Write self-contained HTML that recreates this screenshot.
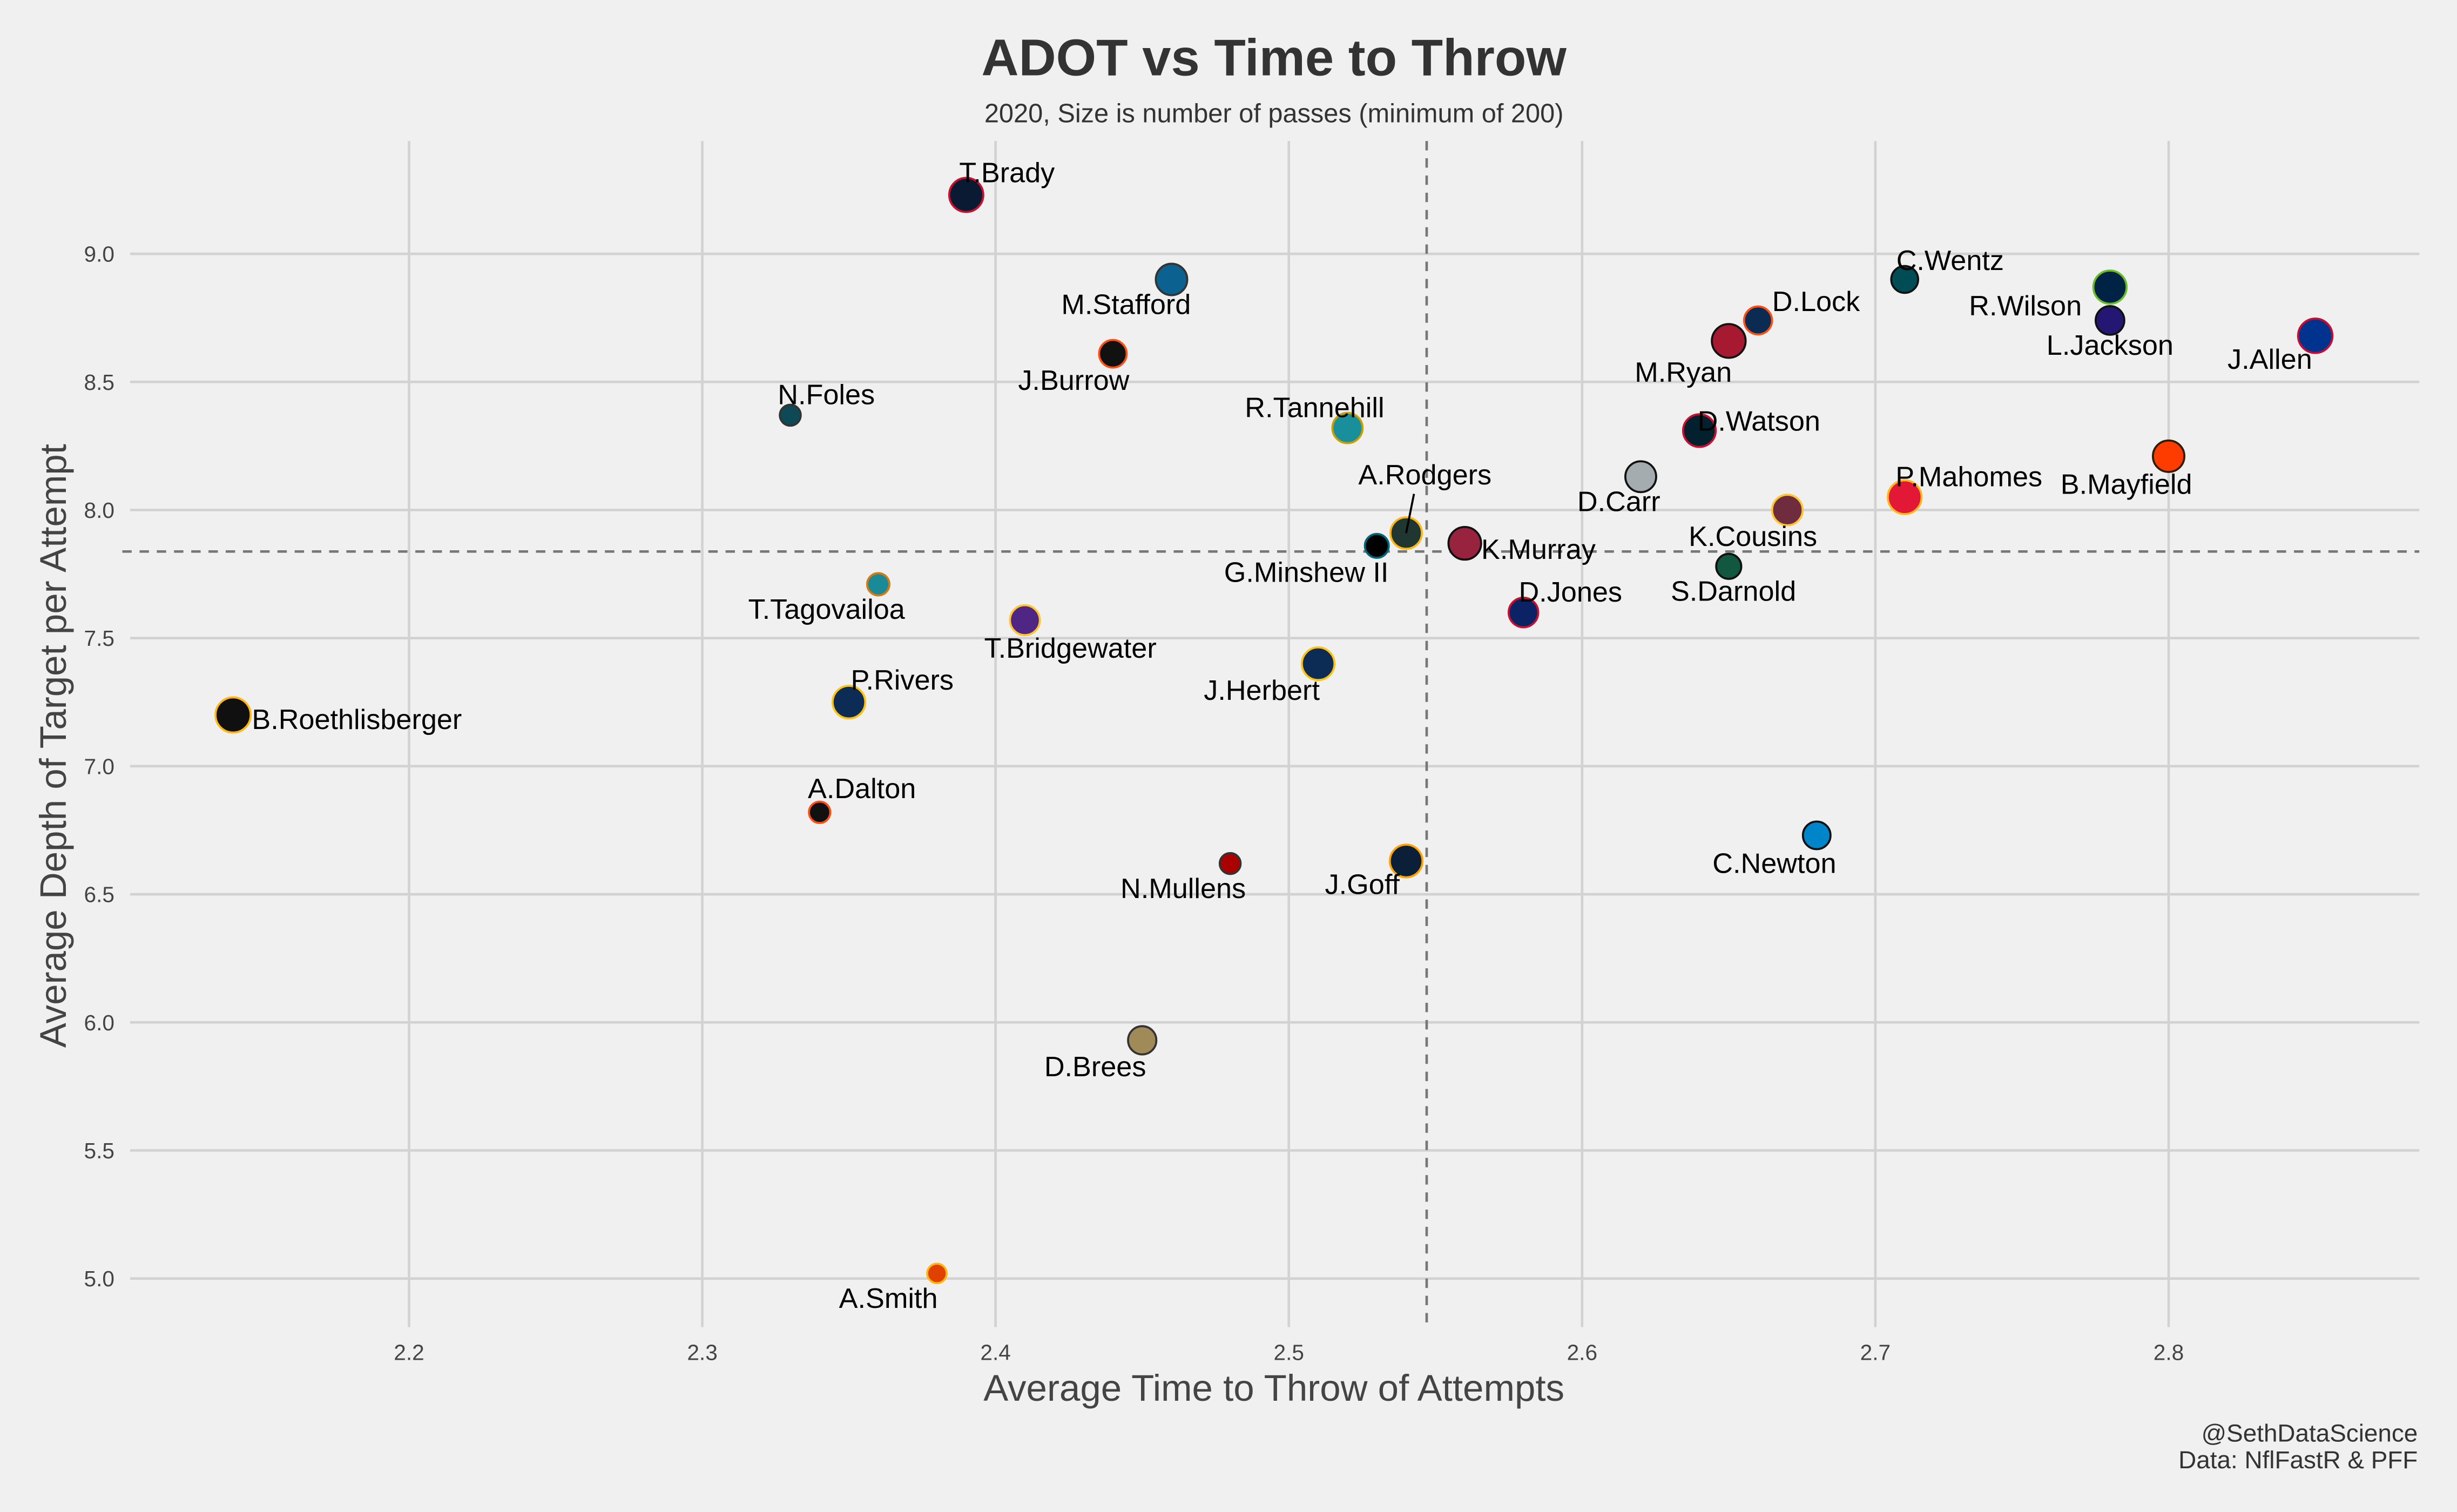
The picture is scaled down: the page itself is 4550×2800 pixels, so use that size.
<!DOCTYPE html>
<html><head><meta charset="utf-8"><style>
html,body{margin:0;padding:0;background:#f0f0f0;}
svg{display:block;}
text{font-family:"Liberation Sans",Arial,sans-serif;}
</style></head><body>
<svg id="chart" xmlns="http://www.w3.org/2000/svg" width="4550" height="2800" viewBox="0 0 1568 965">
<rect x="0" y="0" width="1568" height="965" fill="#f0f0f0"/>
<g id="grid"></g>
<g id="ticks"></g>
<g id="refs"></g>
<g id="points"></g>
<g id="labels"></g>
<text x="813" y="48" text-anchor="middle" font-size="33" font-weight="bold" fill="#333">ADOT vs Time to Throw</text>
<text x="813" y="78" text-anchor="middle" font-size="16.8" fill="#333">2020, Size is number of passes (minimum of 200)</text>
<text x="813" y="894" text-anchor="middle" font-size="23.8" fill="#444">Average Time to Throw of Attempts</text>
<text transform="translate(42,476) rotate(-90)" text-anchor="middle" font-size="23.8" fill="#444">Average Depth of Target per Attempt</text>
<text x="1543" y="920" text-anchor="end" font-size="15.8" fill="#333">@SethDataScience</text>
<text x="1543" y="937" text-anchor="end" font-size="15.8" fill="#333">Data: NflFastR &amp; PFF</text>
</svg>
<script>
const names=["T.Brady","M.Stafford","J.Burrow","N.Foles","R.Tannehill","A.Rodgers","G.Minshew II","K.Murray","T.Tagovailoa","T.Bridgewater","J.Herbert","P.Rivers","B.Roethlisberger","A.Dalton","N.Mullens","J.Goff","D.Brees","A.Smith","D.Jones","D.Carr","D.Watson","M.Ryan","D.Lock","C.Wentz","K.Cousins","S.Darnold","P.Mahomes","C.Newton","R.Wilson","L.Jackson","B.Mayfield","J.Allen"];
const ttt=[2.39,2.46,2.44,2.33,2.52,2.54,2.53,2.56,2.36,2.41,2.51,2.35,2.14,2.34,2.48,2.54,2.45,2.38,2.58,2.62,2.64,2.65,2.66,2.71,2.67,2.65,2.71,2.68,2.78,2.78,2.80,2.85];
const adot=[9.23,8.90,8.61,8.37,8.32,7.91,7.86,7.87,7.71,7.57,7.40,7.25,7.20,6.82,6.62,6.63,5.93,5.02,7.60,8.13,8.31,8.66,8.74,8.90,8.00,7.78,8.05,6.73,8.87,8.74,8.21,8.68];
const passes=[610,520,400,230,480,520,300,560,260,470,560,560,650,240,230,560,420,200,460,500,560,600,410,380,490,330,600,400,580,430,520,620];
const xTicks=[2.2,2.3,2.4,2.5,2.6,2.7,2.8];
const yTicks=[5.0,5.5,6.0,6.5,7.0,7.5,8.0,8.5,9.0];
const meanX=2.547, meanY=7.838;
const fills=["#0a1a33","#0b6190","#111","#0d4a55","#1a8f9c","#203731","#000","#97233f","#1a8a96","#4f2683","#0c2b55","#0c2b55","#101010","#111","#aa0000","#0b1f38","#a08a58","#e04000","#0b2265","#a5acaf","#03202f","#a71930","#0b2b52","#004c54","#6e2c3e","#125740","#e31837","#0085ca","#002244","#241773","#ff3c00","#00338d"];
const edges=["#c8102e","#333","#fb4f14","#333","#c8a000","#ffb612","#006778","#111","#d67a10","#ffc62f","#ffc20e","#ffc20e","#ffb612","#fb4f14","#333","#ffa300","#333","#ffb612","#c8102e","#111","#c8102e","#111","#fb4f14","#111","#ffc62f","#111","#ffb81c","#111","#69be28","#111","#311d00","#c60c30"];
const ldx=[26,-29,-25,23,-21,12,-45,47,-33,29,-36,34,79,27,-30,-28,-30,-31,30,-14,38,-29,37,29,-22,3,41,-27,-54,0,-27,-29];
const ldy=[-14,16,17,-13,-13,-37,17,4,16,18,17,-14,3,-15,16,15,17,16,-13,16,-6,20,-12,-12,17,16,-13,18,12,16,18,15];
const NS="http://www.w3.org/2000/svg";
const X=v=>261+(v-2.2)*1871.7, Y=v=>816-(v-5)*163.5;
const R=p=>Math.sqrt(p)*0.44;
function mk(tag,attrs,parent){const e=document.createElementNS(NS,tag);for(const k in attrs)e.setAttribute(k,attrs[k]);document.getElementById(parent).appendChild(e);return e;}
xTicks.forEach(t=>{const l=mk('line',{x1:X(t),x2:X(t),y1:90,y2:847,stroke:'#d2d2d2','stroke-width':1.6},'grid');


const tx=mk('text',{x:X(t),y:868,'text-anchor':'middle','font-size':14,fill:'#444'},'ticks');tx.textContent=t.toFixed(1);

});
yTicks.forEach(t=>{const l=mk('line',{x1:83,x2:1544,y1:Y(t),y2:Y(t),stroke:'#d2d2d2','stroke-width':1.6},'grid');


const tx=mk('text',{x:73,y:Y(t)+5,'text-anchor':'end','font-size':14,fill:'#444'},'ticks');tx.textContent=t.toFixed(1);

});
const vl=mk('line',{x1:X(meanX),x2:X(meanX),y1:90,y2:847,stroke:'#777','stroke-width':1.6,'stroke-dasharray':'6,5'},'refs');


const hl=mk('line',{x1:78,x2:1544,y1:Y(meanY),y2:Y(meanY),stroke:'#777','stroke-width':1.6,'stroke-dasharray':'6,5'},'refs');


names.forEach((n,i)=>{const cx=X(ttt[i]),cy=Y(adot[i]);
const c=mk('circle',{cx:cx,cy:cy,r:R(passes[i]),fill:fills[i],stroke:edges[i],'stroke-width':1.3},'points');


if(n==="A.Rodgers"){const ln=mk('line',{x1:cx,y1:cy,x2:cx+5,y2:cy+ldy[i]+12,stroke:'#000','stroke-width':1.3},'labels');

}
const t=mk('text',{x:cx+ldx[i],y:cy+ldy[i]+6,'text-anchor':'middle','font-size':18,fill:'#000'},'labels');t.textContent=n;

});
</script>
</body></html>
